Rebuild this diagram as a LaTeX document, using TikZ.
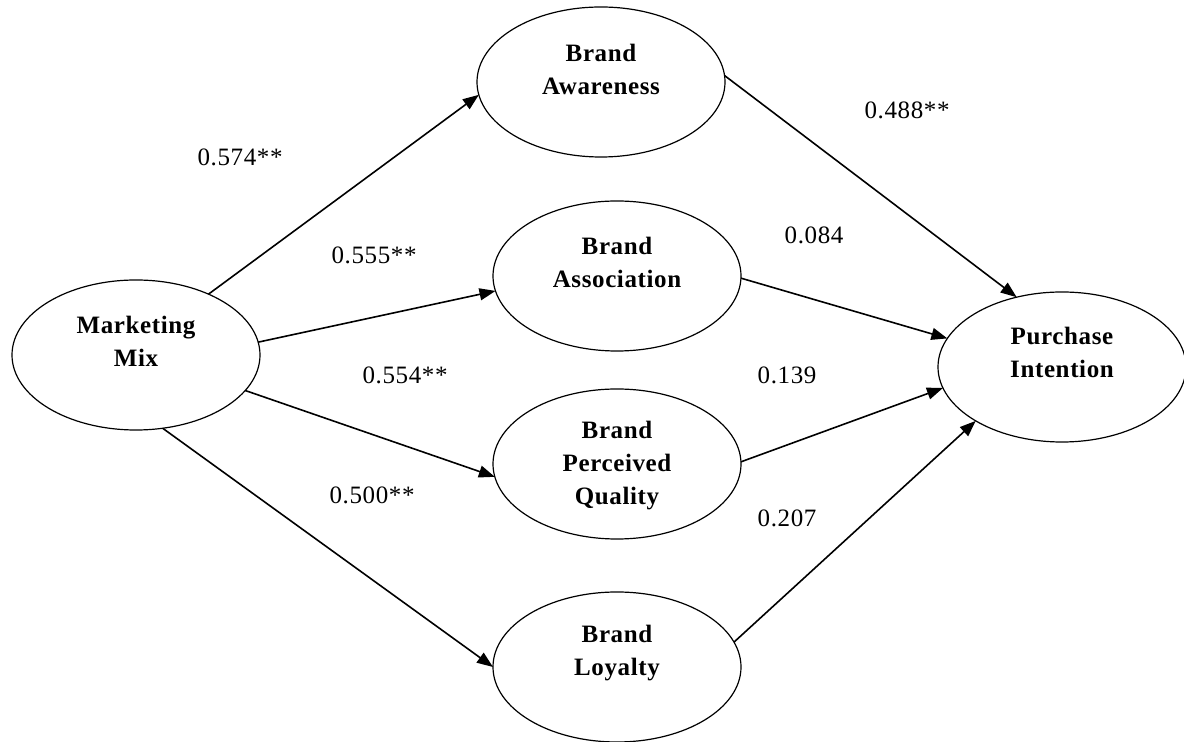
\documentclass[tikz,border=0pt]{standalone}
\usepackage{fontspec}
\setmainfont{Liberation Serif}[LetterSpace=2.5]
\usetikzlibrary{shapes.geometric,arrows.meta}
\tikzset{
  oval/.style={draw, ellipse, line width=0.6pt, minimum width=124pt, minimum height=75pt, inner sep=0pt, outer sep=0pt},
  otext/.style={font=\fontsize{12.5pt}{16.5pt}\selectfont\bfseries, align=center, inner sep=0pt},
  coef/.style={font=\fontsize{12.5pt}{15pt}\selectfont, inner sep=0pt},
  path/.style={line width=0.8pt, -{Triangle[length=8pt,width=6pt]}}
}
\begin{document}
\begin{tikzpicture}[x=0.5pt,y=-0.5pt]
\useasboundingbox (0,0) rectangle (1184,742);
% ellipses
\node[oval] (mm)  at (136,355) {};
\node[oval] (ba)  at (601,82) {};
\node[oval] (bas) at (617,276) {};
\node[oval] (bpq) at (617,464) {};
\node[oval] (bl)  at (617,667) {};
\node[oval] (pi)  at (1062,367) {};
% texts
\node[otext] (mmt)  at (136,341) {Marketing\\Mix};
\node[otext] (bat)  at (601,69.5) {Brand\\Awareness};
\node[otext] (bast) at (617,262) {Brand\\Association};
\node[otext] (bpqt) at (617,466) {Brand\\Perceived\\Quality};
\node[otext] (blt)  at (617,653.5) {Brand\\Loyalty};
\node[otext] (pit)  at (1062,352) {Purchase\\Intention};
% connectors
\draw[path] (mm.40.4) -- (ba.186.9);
\draw[path] (mm.6.4) -- (bas.187.8);
\draw[path] (mm.-18.6) -- (bpq.186.3);
\draw[path] (mm.-70) -- (bl.180.5);
\draw[path] (ba.3.2) -- (pi.123.7);
\draw[path] (bas.-1.4) -- (pi.166);
\draw[path] (bpq.1.8) -- (pi.190.5);
\draw[path] (bl.12) -- (pi.212.2);
% coefficients
\node[coef] (c1) at (240,157) {0.574**};
\node[coef] (c2) at (374,255) {0.555**};
\node[coef] (c3) at (405,375) {0.554**};
\node[coef] (c4) at (372,495) {0.500**};
\node[coef] (c5) at (907,110) {0.488**};
\node[coef] (c6) at (814,235) {0.084};
\node[coef] (c7) at (787,375) {0.139};
\node[coef] (c8) at (787,518) {0.207};
\end{tikzpicture}
\end{document}
